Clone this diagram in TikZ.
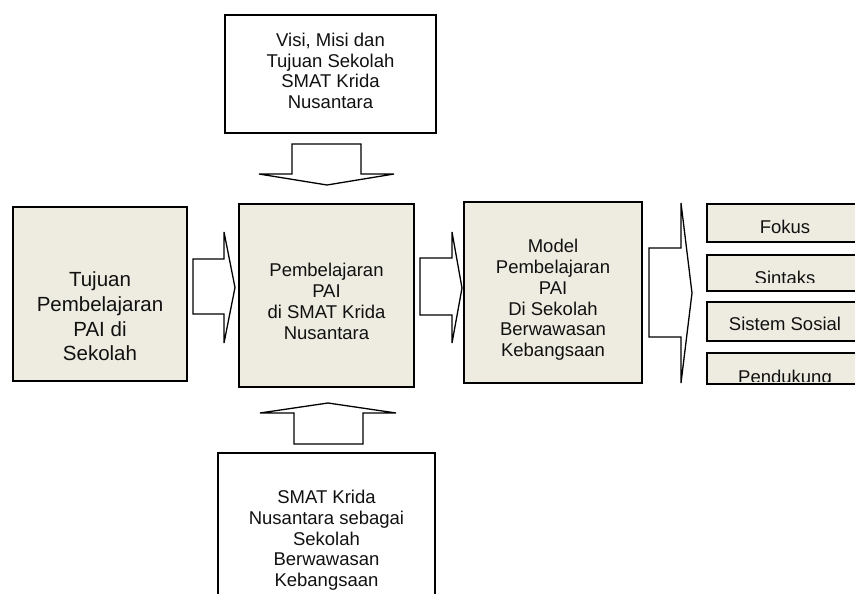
\documentclass[tikz,border=0pt]{standalone}
\usepackage{fontspec}
\setmainfont{Liberation Sans}
\usepackage{tikz}
\usetikzlibrary{positioning,calc}
\definecolor{cKrem}{HTML}{EEECE1}
\definecolor{cGaris}{HTML}{000000}
\definecolor{cTeks}{HTML}{111111}
\tikzset{
  kotak/.style   = {rectangle, draw=cGaris, fill=#1, line width=1.4pt, inner sep=0pt},
  kotak/.default = cKrem,
  putih/.style   = {kotak=white, line width=1.2pt},
  teks/.style    = {align=center, inner sep=0pt, text=cTeks,
                    font=\fontsize{18.5}{20.7}\selectfont},
  teksbesar/.style = {teks, font=\fontsize{20.5}{24.7}\selectfont},
  panah/.style   = {draw=cGaris, fill=white, line width=1.3pt},
}

\begin{document}
\begin{tikzpicture}[x=1pt, y=-1pt]
  \useasboundingbox (0,0) rectangle (855,594);
  \clip (0,0) rectangle (855,594);

  % kotak utama
  \node[putih, minimum width=211pt, minimum height=118pt] (visi) at (330.5,74) {};
  \node[kotak, minimum width=174pt, minimum height=174pt] (kiri) at (100,294) {};
  \node[kotak, minimum width=175pt, minimum height=183pt] (tengah) at (326.5,295.5) {};
  \node[kotak, minimum width=178pt, minimum height=181pt] (model) at (553,292.5) {};
  \node[putih, minimum width=217pt, minimum height=177pt] (smat) at (326.5,541.5) {};

  \node[teks, anchor=north, yshift=-18.4pt] (visiT) at (visi.north)
    {Visi, Misi dan\\Tujuan Sekolah\\SMAT Krida\\Nusantara};
  \node[teksbesar, anchor=north, yshift=-65.3pt] (kiriT) at (kiri.north)
    {Tujuan\\Pembelajaran\\PAI di\\Sekolah};
  \node[teks, anchor=north, yshift=-60pt] (tengahT) at (tengah.north)
    {Pembelajaran\\PAI\\di SMAT Krida\\Nusantara};
  \node[teks, anchor=north, yshift=-38pt] (modelT) at (model.north)
    {Model\\Pembelajaran\\PAI\\Di Sekolah\\Berwawasan\\Kebangsaan};
  \node[teks, anchor=north, yshift=-37.7pt] (smatT) at (smat.north)
    {SMAT Krida\\Nusantara sebagai\\Sekolah\\Berwawasan\\Kebangsaan};

  % komponen model
  \node[kotak, minimum width=156pt, minimum height=38pt] (fokus) at (785,223) {};
  \node[kotak, minimum width=156pt, minimum height=36pt] (sintaks) at (785,273) {};
  \node[kotak, minimum width=156pt, minimum height=39pt] (sosial) at (785,321.5) {};
  \node[kotak, minimum width=156pt, minimum height=31pt] (pendukung) at (785,368.5) {};

  \node[teks, anchor=base, yshift=-10.5pt] (fokusT) at (fokus.center) {Fokus};
  \begin{scope}
    \clip (sintaks.north west) rectangle ([yshift=9pt]sintaks.south east);
    \node[teks, anchor=base, yshift=-11.5pt] (sintaksT) at (sintaks.center) {Sintaks};
  \end{scope}
  \node[teks, anchor=base, yshift=-8.5pt] (sosialT) at (sosial.center) {Sistem Sosial};
  \begin{scope}
    \clip (pendukung.north west) rectangle ([yshift=3pt]pendukung.south east);
    \node[teks, anchor=base, yshift=-14.5pt] (pendukungT) at (pendukung.center) {Pendukung};
  \end{scope}

  % panah blok
  \draw[panah] (193,259) -- (224,259) -- (224,232) -- (235,287.5) -- (224,343)
    -- (224,314) -- (193,314) -- cycle;
  \draw[panah] (420,258) -- (452,258) -- (452,232) -- (462,288) -- (452,343)
    -- (452,315) -- (420,315) -- cycle;
  \draw[panah] (649,248) -- (681,248) -- (681,203) -- (692,293) -- (681,383)
    -- (681,337) -- (649,337) -- cycle;
  \draw[panah] (292,144) -- (361,144) -- (361,174) -- (394,174) -- (327,185)
    -- (259,174) -- (292,174) -- cycle;
  \draw[panah] (294,444) -- (294,413) -- (260,413) -- (328,403) -- (396,413)
    -- (363,413) -- (363,444) -- cycle;
\end{tikzpicture}
\end{document}
